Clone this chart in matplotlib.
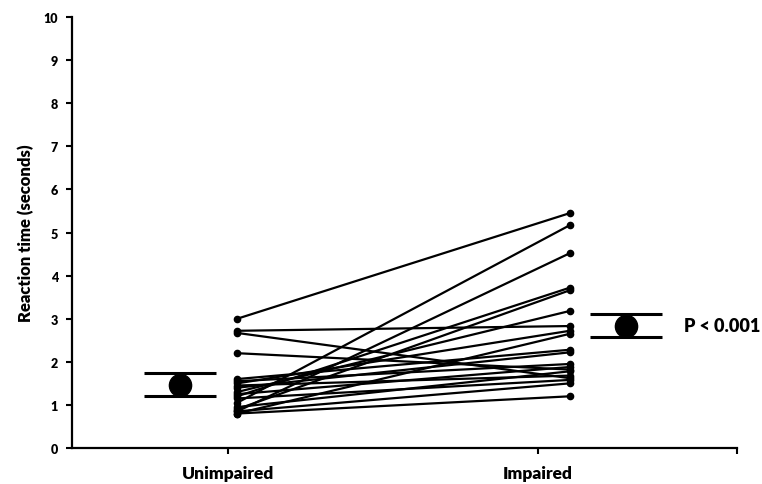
import matplotlib.pyplot as plt

plt.rcParams["font.family"] = ["Lato", "DejaVu Sans"]

categories = ["Unimpaired", "Impaired"]
unimpaired = [3.0, 2.72, 2.67, 2.2, 1.05, 0.85, 1.2, 0.9, 1.3, 1.5,
              0.8, 1.6, 1.4, 1.55, 1.25, 0.95, 1.45, 1.15, 0.85, 0.8]
impaired = [5.45, 2.83, 1.62, 1.82, 5.17, 4.52, 3.72, 3.66, 3.18, 2.72,
            2.65, 2.28, 2.22, 1.95, 1.88, 1.78, 1.68, 1.58, 1.5, 1.2]
means = [1.47, 2.84]
err_low = [1.21, 2.58]
err_high = [1.74, 3.11]
p_text = "P < 0.001"

fig = plt.figure(figsize=(7.62, 4.85), dpi=100)
ax = fig.add_axes([0.0945, 0.0742, 0.8725, 0.8886])

# paired lines
x_pts = [1.03, 2.103]
for a, b in zip(unimpaired, impaired):
    ax.plot(x_pts, [a, b], color="black", lw=1.6, marker="o", ms=4.5,
            solid_capstyle="round")

# group means with error bars
x_mean = [0.845, 2.284]
for xm, m, lo, hi in zip(x_mean, means, err_low, err_high):
    ax.errorbar(xm, m, yerr=[[m - lo], [hi - m]], fmt="o", color="black",
                ms=16, capsize=26, capthick=2.2, elinewidth=0)

ax.text(2.471, means[1], p_text, fontsize=13, fontweight="heavy",
        va="center", ha="left")

ax.set_xlim(0.497, 2.642)
ax.set_ylim(0, 10)
ax.set_yticks(range(0, 11))
ax.set_xticks([1, 2])
ax.set_xticklabels(categories, fontsize=12.5, fontweight="heavy")
ax.set_xticks([2.642], minor=True)
ax.tick_params(axis="x", which="both", length=4, width=1.5, direction="out", pad=8)
ax.tick_params(axis="y", length=4, width=1.5, labelsize=9, pad=6)
for lab in ax.get_yticklabels():
    lab.set_fontweight("heavy")
ax.set_ylabel("Reaction time (seconds)", fontsize=12, fontweight="heavy", labelpad=7)

for s in ["top", "right"]:
    ax.spines[s].set_visible(False)
for s in ["left", "bottom"]:
    ax.spines[s].set_linewidth(1.6)

fig.savefig("out.png", dpi=100)
